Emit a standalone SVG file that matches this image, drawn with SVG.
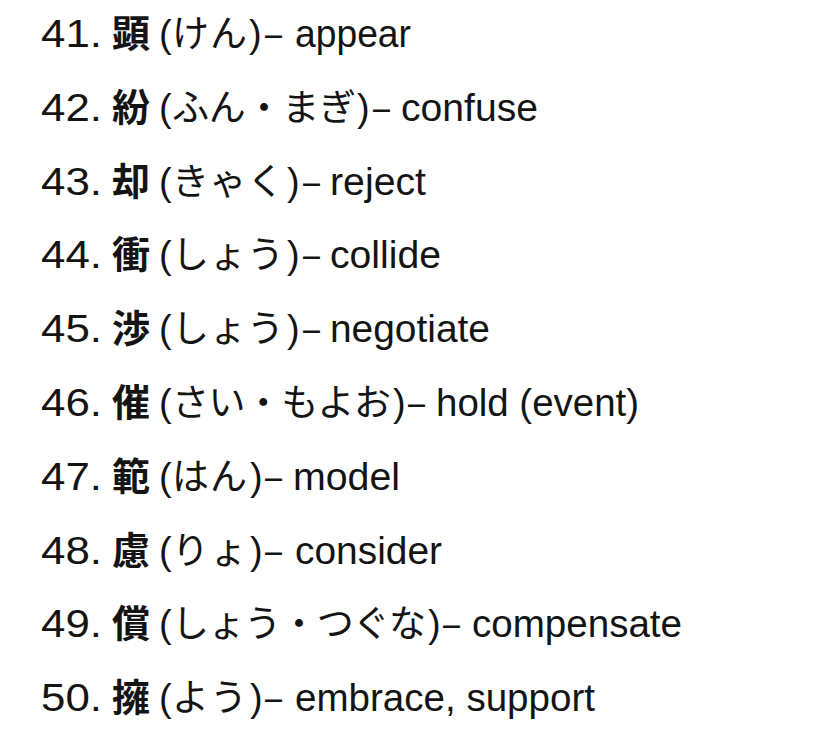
<svg xmlns="http://www.w3.org/2000/svg" width="828" height="745" viewBox="0 0 828 745">
<style>
text{fill:#141414;font-size:38px}
.n,.l,.p,.d{font-family:"Liberation Sans",Arial,sans-serif}
.k{font-family:"Noto Sans CJK JP",sans-serif;font-weight:700;font-size:38px}
.j{font-family:"Noto Sans CJK JP",sans-serif;font-size:37px}
</style>
<rect width="828" height="745" fill="#ffffff"/>
<g id="item41">
<text class="n" x="41" y="47" textLength="61" lengthAdjust="spacingAndGlyphs">41.</text>
<text class="k" x="112" y="47">顕</text>
<text class="p" x="159" y="47">(</text>
<text class="j" x="172" y="47" textLength="75" lengthAdjust="spacing">けん</text>
<text class="p" x="249" y="47">)</text>
<text class="d" x="265" y="47" textLength="17" lengthAdjust="spacingAndGlyphs">–</text>
<text class="l" x="295" y="47" textLength="116" lengthAdjust="spacingAndGlyphs">appear</text>
</g>
<g id="item42">
<text class="n" x="41" y="121" textLength="61" lengthAdjust="spacingAndGlyphs">42.</text>
<text class="k" x="112" y="121">紛</text>
<text class="p" x="159" y="121">(</text>
<text class="j" x="172" y="121" textLength="184" lengthAdjust="spacing">ふん・まぎ</text>
<text class="p" x="357" y="121">)</text>
<text class="d" x="373" y="121" textLength="17" lengthAdjust="spacingAndGlyphs">–</text>
<text class="l" x="401" y="121" textLength="137" lengthAdjust="spacingAndGlyphs">confuse</text>
</g>
<g id="item43">
<text class="n" x="41" y="195" textLength="61" lengthAdjust="spacingAndGlyphs">43.</text>
<text class="k" x="112" y="195">却</text>
<text class="p" x="159" y="195">(</text>
<text class="j" x="172" y="195" textLength="112" lengthAdjust="spacing">きゃく</text>
<text class="p" x="287" y="195">)</text>
<text class="d" x="303" y="195" textLength="17" lengthAdjust="spacingAndGlyphs">–</text>
<text class="l" x="330" y="195" textLength="96" lengthAdjust="spacingAndGlyphs">reject</text>
</g>
<g id="item44">
<text class="n" x="41" y="268" textLength="61" lengthAdjust="spacingAndGlyphs">44.</text>
<text class="k" x="112" y="268">衝</text>
<text class="p" x="159" y="268">(</text>
<text class="j" x="172" y="268" textLength="112" lengthAdjust="spacing">しょう</text>
<text class="p" x="287" y="268">)</text>
<text class="d" x="303" y="268" textLength="17" lengthAdjust="spacingAndGlyphs">–</text>
<text class="l" x="330" y="268" textLength="111" lengthAdjust="spacingAndGlyphs">collide</text>
</g>
<g id="item45">
<text class="n" x="41" y="342" textLength="61" lengthAdjust="spacingAndGlyphs">45.</text>
<text class="k" x="112" y="342">渉</text>
<text class="p" x="159" y="342">(</text>
<text class="j" x="172" y="342" textLength="112" lengthAdjust="spacing">しょう</text>
<text class="p" x="287" y="342">)</text>
<text class="d" x="303" y="342" textLength="17" lengthAdjust="spacingAndGlyphs">–</text>
<text class="l" x="330" y="342" textLength="160" lengthAdjust="spacingAndGlyphs">negotiate</text>
</g>
<g id="item46">
<text class="n" x="41" y="416" textLength="61" lengthAdjust="spacingAndGlyphs">46.</text>
<text class="k" x="112" y="416">催</text>
<text class="p" x="159" y="416">(</text>
<text class="j" x="172" y="416" textLength="219" lengthAdjust="spacing">さい・もよお</text>
<text class="p" x="393" y="416">)</text>
<text class="d" x="408" y="416" textLength="17" lengthAdjust="spacingAndGlyphs">–</text>
<text class="l" x="436" y="416" textLength="203" lengthAdjust="spacingAndGlyphs">hold (event)</text>
</g>
<g id="item47">
<text class="n" x="41" y="490" textLength="61" lengthAdjust="spacingAndGlyphs">47.</text>
<text class="k" x="112" y="490">範</text>
<text class="p" x="159" y="490">(</text>
<text class="j" x="172" y="490" textLength="75" lengthAdjust="spacing">はん</text>
<text class="p" x="250" y="490">)</text>
<text class="d" x="265" y="490" textLength="17" lengthAdjust="spacingAndGlyphs">–</text>
<text class="l" x="293" y="490" textLength="107" lengthAdjust="spacingAndGlyphs">model</text>
</g>
<g id="item48">
<text class="n" x="41" y="564" textLength="61" lengthAdjust="spacingAndGlyphs">48.</text>
<text class="k" x="112" y="564">慮</text>
<text class="p" x="159" y="564">(</text>
<text class="j" x="172" y="564" textLength="75" lengthAdjust="spacing">りょ</text>
<text class="p" x="250" y="564">)</text>
<text class="d" x="265" y="564" textLength="17" lengthAdjust="spacingAndGlyphs">–</text>
<text class="l" x="295" y="564" textLength="147" lengthAdjust="spacingAndGlyphs">consider</text>
</g>
<g id="item49">
<text class="n" x="41" y="637" textLength="61" lengthAdjust="spacingAndGlyphs">49.</text>
<text class="k" x="112" y="637">償</text>
<text class="p" x="159" y="637">(</text>
<text class="j" x="172" y="637" textLength="254" lengthAdjust="spacing">しょう・つぐな</text>
<text class="p" x="428" y="637">)</text>
<text class="d" x="443" y="637" textLength="17" lengthAdjust="spacingAndGlyphs">–</text>
<text class="l" x="472" y="637" textLength="210" lengthAdjust="spacingAndGlyphs">compensate</text>
</g>
<g id="item50">
<text class="n" x="41" y="711" textLength="61" lengthAdjust="spacingAndGlyphs">50.</text>
<text class="k" x="112" y="711">擁</text>
<text class="p" x="159" y="711">(</text>
<text class="j" x="172" y="711" textLength="75" lengthAdjust="spacing">よう</text>
<text class="p" x="250" y="711">)</text>
<text class="d" x="265" y="711" textLength="17" lengthAdjust="spacingAndGlyphs">–</text>
<text class="l" x="295" y="711" textLength="300" lengthAdjust="spacingAndGlyphs">embrace, support</text>
</g>
<g id="connectors"></g>
</svg>
